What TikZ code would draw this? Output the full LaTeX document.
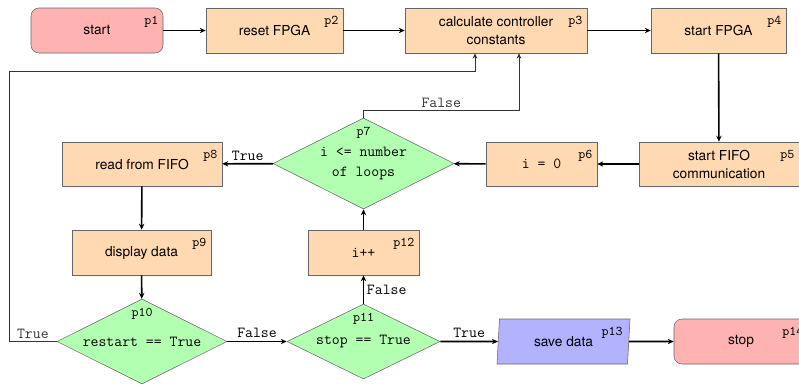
\documentclass[tikz,border=0pt]{standalone}
\usepackage{fontspec}
\setsansfont{TeX Gyre Heros}
\usepackage{tikz}
\usetikzlibrary{positioning, shapes.geometric, arrows.meta}

\newcommand{\flowfont}{\sffamily\fontsize{10.3}{13.5}\selectfont}
\newcommand{\codefont}{\ttfamily\fontsize{11.5}{15}\selectfont}
\newcommand{\tagfont}{\ttfamily\fontsize{10}{11}\selectfont}

\begin{document}
\begin{tikzpicture}[
        x=0.75pt, y=-0.75pt,
        box/.style={rectangle, draw=black!60, fill=orange!30, minimum height=33.75pt, align=center, font=\flowfont, inner sep=2pt},
        term/.style={box, rounded corners=6pt, fill=red!30},
        decision/.style={diamond, draw=black!60, fill=green!30, aspect=2, inner sep=0pt, align=center, font=\codefont},
        io/.style={trapezium, trapezium left angle=81, trapezium right angle=99, trapezium stretches body, draw=black!60, fill=blue!30, minimum height=33.75pt, align=center, font=\flowfont, inner sep=2pt},
        tag/.style={font=\tagfont, inner sep=3.5pt},
        boxtag/.style={label={[tag, anchor=north east, yshift=-2.5pt]north east:#1}},
        dectag/.style={label={[tag, anchor=center, yshift=-11.25pt]north:#1}},
        flow/.style={-{Stealth[length=4.5pt, width=4pt]}, line width=1.2pt},
        back/.style={-{Stealth[length=4pt, width=3.5pt]}, line width=0.7pt, black!80},
        cond/.style={font=\codefont, inner sep=2pt}
    ]
    \useasboundingbox (0,0) rectangle (799,386);

    % TOP ROW
    \node[term, minimum width=99pt, boxtag=p1] (start) at (97,30.5) {start};
    \node[box, minimum width=102.75pt, boxtag=p2] (reset) at (274.5,30.5) {reset FPGA};
    \node[box, minimum width=136.5pt, boxtag=p3] (calc) at (496,30.5) {calculate controller\\constants};
    \node[box, minimum width=101.25pt, boxtag=p4] (fpga) at (718.5,30.5) {start FPGA};

    % FIFO LOOP
    \node[box, minimum width=120pt, minimum height=33pt, boxtag=p5] (fifo) at (719,164) {start FIFO\\communication};
    \node[box, minimum width=83.25pt, minimum height=33pt, font=\codefont, boxtag=p6] (izero) at (541.5,164) {i = 0};
    \node[decision, minimum width=135.75pt, minimum height=68.25pt, dectag=p7] (loop) at (363.5,163.5) {i <= number\\of loops};
    \node[box, minimum width=120pt, minimum height=33pt, boxtag=p8] (read) at (142,164) {read from FIFO};
    \node[box, minimum width=104.25pt, boxtag=p9] (show) at (141.5,252.5) {display data};
    \node[box, minimum width=83.25pt, font=\codefont, boxtag=p12] (incr) at (363.5,252.5) {i++};

    % BOTTOM ROW
    \node[decision, minimum width=127.5pt, minimum height=63.75pt, dectag=p10] (restart) at (142,341.5) {restart == True};
    \node[decision, minimum width=114.75pt, minimum height=56.25pt, dectag=p11] (stopq) at (363.5,341.5) {stop == True};
    \node[io, minimum width=99.75pt, label={[tag, anchor=north east, xshift=-2pt, yshift=-2.5pt]top right corner:p13}] (save) at (563.5,341.5) {save data};
    \node[term, minimum width=100.5pt, boxtag=p14] (stop) at (741,341.5) {stop};

    % Connections
    \draw[flow] (start) -- (reset);
    \draw[flow] (reset) -- (calc);
    \draw[flow] (calc) -- (fpga);
    \draw[flow] (fpga) -- (fifo);
    \draw[flow] (fifo) -- (izero);
    \draw[flow] (izero) -- (loop);
    \draw[flow] (loop) -- node[cond, above] {True} (read);
    \draw[flow] (read) -- (show);
    \draw[flow] (show) -- (restart);
    \draw[flow] (restart) -- node[cond, above] {False} (stopq);
    \draw[flow] (stopq) -- node[cond, right] {False} (incr);
    \draw[flow] (incr) -- (loop);
    \draw[flow] (stopq) -- node[cond, above] {True} (save);
    \draw[flow] (save) -- (stop);

    % back to the controller constants
    \coordinate (rbend) at (9,71);
    \draw[back] (restart.west) -| node[cond, above, pos=0.25] {True} (rbend) -| ([xshift=-15.75pt]calc.south);
    \draw[back] (loop.north) -- ++(0,-7) -| node[cond, above, pos=0.25] {False} ([xshift=17.25pt]calc.south);
\end{tikzpicture}
\end{document}
